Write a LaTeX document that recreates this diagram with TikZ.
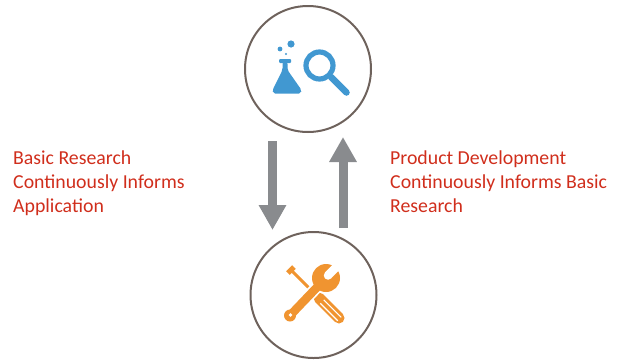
\documentclass[tikz,border=0pt]{standalone}
\usepackage{fontspec}
\setmainfont{Carlito}
\usetikzlibrary{arrows.meta,calc}
\definecolor{iconblue}{RGB}{65,152,209}
\definecolor{iconorange}{RGB}{240,148,48}
\definecolor{txtred}{RGB}{208,46,28}
\definecolor{arrgray}{RGB}{137,139,142}
\definecolor{ringcol}{RGB}{110,98,92}
\tikzset{
  ring/.style={circle,draw=ringcol,line width=2pt,minimum size=126pt,inner sep=0pt},
  blockarrow/.style={draw=arrgray,line width=9pt,-{Triangle[width=26pt,length=25pt]}},
  label/.style={text=txtred,font=\fontsize{19.8}{24}\selectfont,align=left,inner sep=0pt,anchor=north west},
}
\begin{document}
\begin{tikzpicture}[x=1pt,y=-1pt]
\useasboundingbox (0,0) rectangle (626,362);
\node[ring] (top) at (308,69) {};
\node[ring] (bot) at (313.5,295) {};
% arrows
\coordinate (a1) at (272.5,141);
\coordinate (a2) at (272.5,230);
\coordinate (b1) at (343,228);
\coordinate (b2) at (343,137);
\draw[blockarrow] (a1) -- (a2);
\draw[blockarrow] (b1) -- (b2);
% labels
\node[label] (lt) at (13,150.5) {Basic Research\\Continuously Informs\\Application};
\node[label] (rt) at (390,150.5) {Product Development\\Continuously Informs Basic\\Research};
% flask
\fill[iconblue] (280,49) circle (2.4);
\fill[iconblue] (291,44) circle (3.6);
\fill[iconblue] (286,54) circle (1.1);
\fill[iconblue,rounded corners=1] (279,59) rectangle (291,63);
\fill[iconblue,rounded corners=2] (282.5,62) -- (282.5,70) -- (272.5,90) -- (273,93.5) -- (301,93.5) -- (301.5,90) -- (287.5,70) -- (287.5,62) -- cycle;
% magnifier
\draw[iconblue,line width=5.2pt] (319.5,65.5) circle (13.5);
\draw[iconblue,line width=6.5pt,line cap=round] (331,77) -- (346.5,92.5);
% screwdriver
\draw[iconorange,line width=3pt] (291,270) -- (318,297);
\draw[iconorange,line width=5pt] (288,273) -- (294,267);
\draw[iconorange,line width=11pt,line cap=round] (319,298) -- (339,318);
\draw[white,line width=1.2pt] ($(322,301.5)+(1.7,-1.7)$) -- ($(339.5,319)+(1.7,-1.7)$);
\draw[white,line width=1.2pt] ($(322,301.5)+(-1.7,1.7)$) -- ($(339.5,319)+(-1.7,1.7)$);
% wrench
\draw[white,line width=12pt,line cap=round] (290,315.5) -- (318,286);
\draw[iconorange,line width=8.5pt,line cap=round] (290,315.5) -- (322,282);
\fill[iconorange] (290,315.5) circle (6);
\fill[white] (290.5,315) circle (1.9);
\fill[iconorange] (326,278) circle (14);
\draw[white,line width=8.5pt,line cap=round] (328,275.5) -- (343,260);
\end{tikzpicture}
\end{document}
